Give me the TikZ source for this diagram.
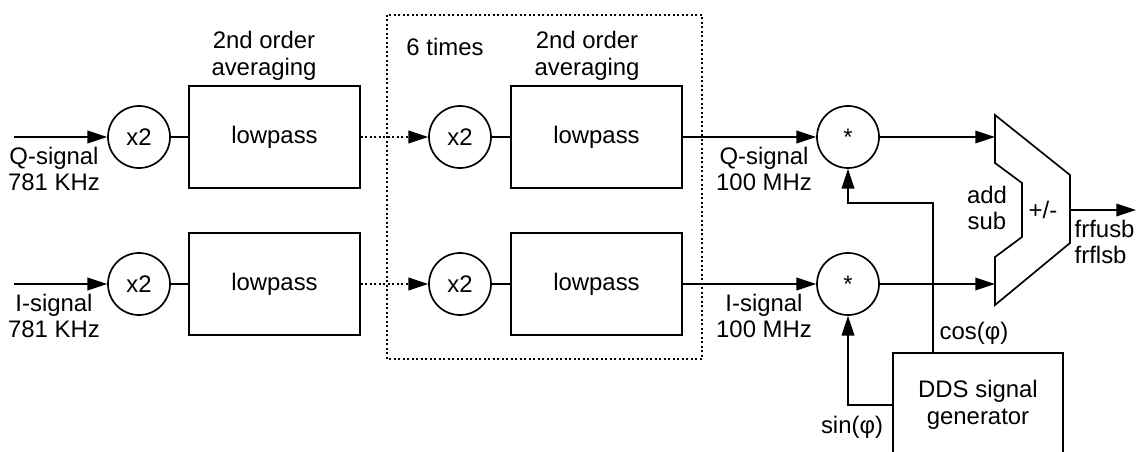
\documentclass[tikz,border=0pt]{standalone}
\usepackage{fontspec}
\setmainfont{Liberation Sans}
\usetikzlibrary{positioning, arrows.meta, calc}

\begin{document}
\begin{tikzpicture}[x=0.025cm, y=-0.025cm, line width=1pt,
	font=\fontsize{17}{19}\selectfont,
	mult/.style={draw, circle, line width=1.2pt, minimum size=1.55cm, inner sep=0pt},
	filt/.style={draw, rectangle, line width=1.2pt, minimum width=4.275cm, minimum height=2.55cm, inner sep=0pt},
	sig/.style={-{Triangle[length=14pt, width=9pt]}},
	repeated/.style={line width=1.3pt, dash pattern=on 1.3pt off 1.9pt}]
	\useasboundingbox (0,0) rectangle (1136,452);

	% the stage that is repeated
	\draw[repeated] (387,15) rectangle (702,359);
	\node (times) at (445,47) {6 times};
	\foreach \n/\x in {1/264, 2/587}{
		\node[align=center] (avg\n) at (\x,56) {2nd order\\averaging};
	}

	% Q and I paths
	\foreach \r/\y/\sig in {Q/137/Q-signal, I/284/I-signal}{
		\coordinate (in\r) at (14,\y);
		\node[mult] (sq\r) at (139,\y) {x2};
		\node[filt] (lpa\r) at (274.5,\y) {lowpass};
		\node[mult] (sqb\r) at (460,\y) {x2};
		\node[filt] (lpb\r) at (596.5,\y) {lowpass};
		\node[mult] (mul\r) at (848,\y) {\raisebox{-3pt}{*}};
		\coordinate (mux\r) at (995,\y);
		\node[align=center, anchor=north, inner sep=0pt] (lin\r) at (54,\y+9) {\sig\\781 KHz};
		\node[align=center, anchor=north, inner sep=0pt] (lout\r) at (764,\y+9) {\sig\\100 MHz};
		\draw[sig] (in\r) -- (sq\r);
		\draw (sq\r) -- (lpa\r);
		\draw[sig, repeated] (lpa\r) -- (sqb\r);
		\draw (sqb\r) -- (lpb\r);
		\draw[sig] (lpb\r) -- (mul\r);
		\draw[sig] (mul\r) -- (mux\r);
	}

	% add/sub unit
	\draw[line width=1.2pt] (995,115) -- (1070,175) -- (1070,243) -- (995,305) -- (995,257)
		-- (1022,237) -- (1022,183) -- (995,163) -- cycle;
	\node (pm) at (1043,210) {+/-};
	\node[align=center] (addsub) at (987,208) {add\\sub};
	\coordinate (muxout) at (1070,210);
	\coordinate (out) at (1136,210);
	\draw[sig] (muxout) -- (out);
	\node[align=left, anchor=north west, inner sep=0pt] (outlbl) at (1074,219) {frfusb\\frflsb};

	% DDS
	\node[draw, line width=1.2pt, minimum width=4.25cm, minimum height=2.6cm, align=center] (dds) at (978,405) {DDS signal\\generator};
	\coordinate (cosbend) at (933,203);
	\draw[sig] (dds.north -| cosbend) -- (cosbend) -| (mulQ.south);
	\draw[sig] (dds.west) -| (mulI.south);
	\node (coslbl) at (974,333) {cos(φ)};
	\node (sinlbl) at (852,427) {sin(φ)};
\end{tikzpicture}
\end{document}
